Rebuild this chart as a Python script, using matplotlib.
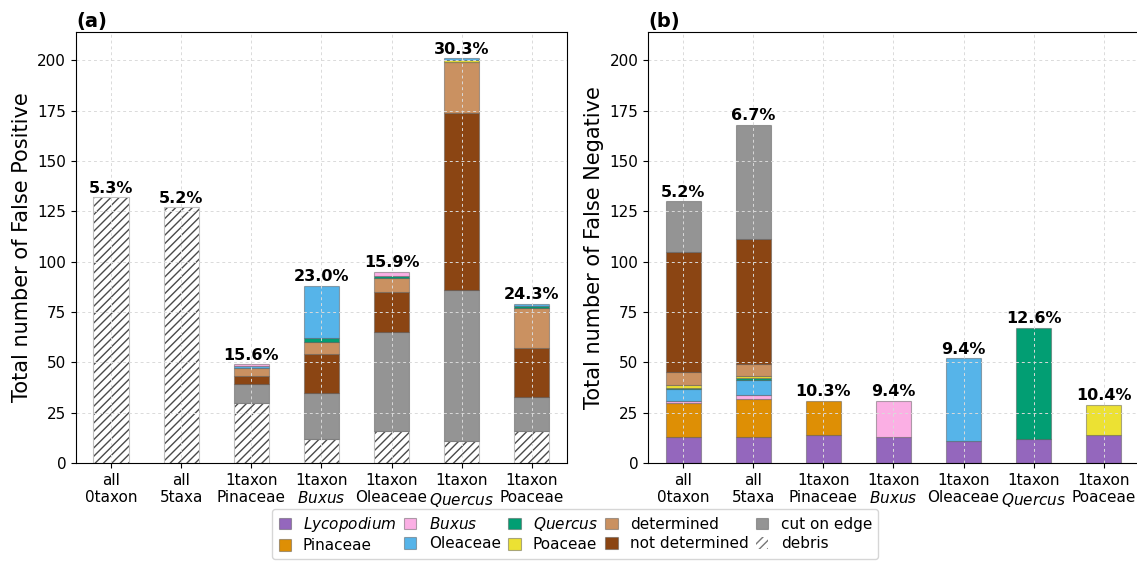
import matplotlib
matplotlib.use("Agg")
import matplotlib.pyplot as plt
from matplotlib.patches import Patch
import numpy as np

# x categories (same for both panels)
categories = ["all\n0taxon", "all\n5taxa", "1taxon\nPinaceae", "1taxon\n$\\it{Buxus}$",
              "1taxon\nOleaceae", "1taxon\n$\\it{Quercus}$", "1taxon\nPoaceae"]

# stack components, legend order
components = ["Lycopodium", "Pinaceae", "Buxus", "Oleaceae", "Quercus", "Poaceae",
              "determined", "not determined", "cut on edge", "debris"]
labels = ["$\\it{Lycopodium}$", "Pinaceae", "$\\it{Buxus}$", "Oleaceae", "$\\it{Quercus}$",
          "Poaceae", "determined", "not determined", "cut on edge", "debris"]
colors = {
    "Lycopodium": "#9467bd",
    "Pinaceae": "#de8f05",
    "Buxus": "#fbafe4",
    "Oleaceae": "#56b4e9",
    "Quercus": "#029e73",
    "Poaceae": "#ece133",
    "determined": "#ca9161",
    "not determined": "#8b4513",
    "cut on edge": "#949494",
    "debris": "white",
}

# (a) false positives
fp_lycopodium = [0, 0, 0, 0, 0, 0, 0]
fp_pinaceae = [0, 0, 0, 0, 0, 0, 0]
fp_buxus = [0, 0, 1, 0, 2, 0, 0]
fp_oleaceae = [0, 0, 1, 26, 0, 1, 1]
fp_quercus = [0, 0, 0, 2, 1, 0, 1]
fp_poaceae = [0, 0, 0, 0, 0, 1, 0]
fp_determined = [0, 0, 4, 6, 7, 25, 20]
fp_not_determined = [0, 0, 4, 19, 20, 88, 24]
fp_cut_on_edge = [0, 0, 9, 23, 49, 75, 17]
fp_debris = [132, 127, 30, 12, 16, 11, 16]
fp_percent = ["5.3%", "5.2%", "15.6%", "23.0%", "15.9%", "30.3%", "24.3%"]

# (b) false negatives
fn_lycopodium = [13, 13, 14, 13, 11, 12, 14]
fn_pinaceae = [17, 19, 17, 0, 0, 0, 0]
fn_buxus = [1, 2, 0, 18, 0, 0, 0]
fn_oleaceae = [6, 7, 0, 0, 41, 0, 0]
fn_quercus = [0.5, 1, 0, 0, 0, 55, 0]
fn_poaceae = [1, 1, 0, 0, 0, 0, 15]
fn_determined = [6.5, 6, 0, 0, 0, 0, 0]
fn_not_determined = [60, 62, 0, 0, 0, 0, 0]
fn_cut_on_edge = [25, 57, 0, 0, 0, 0, 0]
fn_debris = [0, 0, 0, 0, 0, 0, 0]
fn_percent = ["5.2%", "6.7%", "10.3%", "9.4%", "9.4%", "12.6%", "10.4%"]

fp = [fp_lycopodium, fp_pinaceae, fp_buxus, fp_oleaceae, fp_quercus, fp_poaceae,
      fp_determined, fp_not_determined, fp_cut_on_edge, fp_debris]
fn = [fn_lycopodium, fn_pinaceae, fn_buxus, fn_oleaceae, fn_quercus, fn_poaceae,
      fn_determined, fn_not_determined, fn_cut_on_edge, fn_debris]

plt.rcParams["hatch.linewidth"] = 1.0

fig = plt.figure(figsize=(11.37, 5.67), dpi=100)
ax_a = fig.add_axes([0.0668, 0.1834, 0.4318, 0.760])
ax_b = fig.add_axes([0.5699, 0.1834, 0.4318, 0.760])

x = np.arange(len(categories))
width = 0.5
edge = (0.3, 0.3, 0.3, 0.45)


def stacked(ax, data, order, percent, ylabel, title):
    bottom = np.zeros(len(categories))
    for i in order:
        vals = np.array(data[i], dtype=float)
        name = components[i]
        keep = vals > 0  # no outline for empty segments
        if keep.any():
            if name == "debris":
                ax.bar(x[keep], vals[keep], width, bottom=bottom[keep], color="white",
                       hatch="////", edgecolor="#4a4a4a", linewidth=0)
                ax.bar(x[keep], vals[keep], width, bottom=bottom[keep], color="none",
                       edgecolor="#c0c0c0", linewidth=0.8)
            else:
                ax.bar(x[keep], vals[keep], width, bottom=bottom[keep],
                       color=colors[name], edgecolor=edge, linewidth=0.8)
        bottom += vals
    for xi, top, txt in zip(x, bottom, percent):
        ax.text(xi, top + 0.8, txt, ha="center", va="bottom", fontsize=11.5,
                fontweight="bold")
    ax.set_xticks(x)
    ax.set_xticklabels(categories, fontsize=11)
    ax.set_xlim(-0.5, 6.5)
    ax.set_ylim(0, 214)
    ax.set_yticks(np.arange(0, 201, 25))
    ax.tick_params(axis="y", labelsize=11)
    ax.grid(True, linestyle=(0, (3, 3)), color="#dadada", linewidth=0.7)
    ax.set_ylabel(ylabel, fontsize=15)
    ax.set_title(title, loc="left", fontsize=14, fontweight="bold", pad=4)


# (a) stacks from debris upward, (b) from Lycopodium upward
stacked(ax_a, fp, list(range(len(components)))[::-1], fp_percent,
        "Total number of False Positive", "(a)")
stacked(ax_b, fn, list(range(len(components))), fn_percent,
        "Total number of False Negative", "(b)")

handles = []
for name, lab in zip(components, labels):
    if name == "debris":
        handles.append(Patch(facecolor="white", edgecolor="#777777", hatch="////",
                             linewidth=0.0, label=lab))
    else:
        handles.append(Patch(facecolor=colors[name], edgecolor=edge,
                             linewidth=0.8, label=lab))

fig.legend(handles=handles, loc="lower center", bbox_to_anchor=(0.506, 0.0), ncol=5,
           fontsize=11, handlelength=0.8, handleheight=0.8, handletextpad=0.8,
           columnspacing=0.5, labelspacing=0.3, borderpad=0.4)

fig.savefig("out.png", dpi=100)
